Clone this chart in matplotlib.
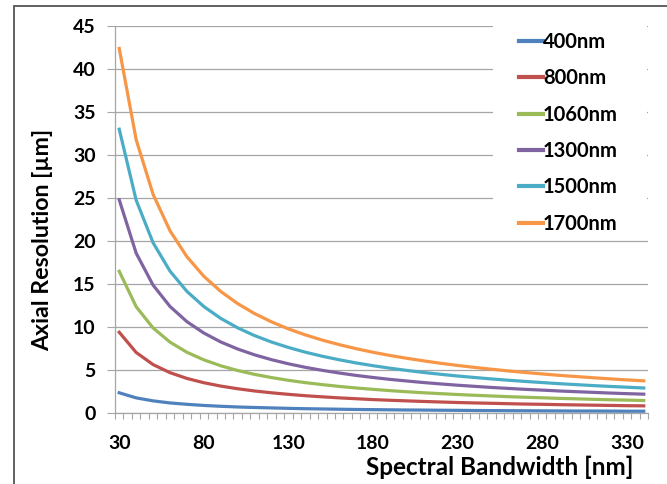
import matplotlib
matplotlib.use("Agg")
import matplotlib.pyplot as plt
import matplotlib.patches as patches
from matplotlib.ticker import FixedLocator

# spectral bandwidth [nm]
bandwidth = [30, 40, 50, 60, 70, 80, 90, 100, 110, 120, 130, 140, 150, 160, 170, 180,
             190, 200, 210, 220, 230, 240, 250, 260, 270, 280, 290, 300, 310, 320, 330, 340]

# axial resolution [um] per centre wavelength
res_400 = [2.35, 1.76, 1.41, 1.17, 1.01, 0.88, 0.78, 0.70, 0.64, 0.59, 0.54, 0.50, 0.47, 0.44, 0.41, 0.39,
           0.37, 0.35, 0.34, 0.32, 0.31, 0.29, 0.28, 0.27, 0.26, 0.25, 0.24, 0.23, 0.23, 0.22, 0.21, 0.21]
res_800 = [9.39, 7.04, 5.63, 4.69, 4.02, 3.52, 3.13, 2.82, 2.56, 2.35, 2.17, 2.01, 1.88, 1.76, 1.66, 1.56,
           1.48, 1.41, 1.34, 1.28, 1.22, 1.17, 1.13, 1.08, 1.04, 1.01, 0.97, 0.94, 0.91, 0.88, 0.85, 0.83]
res_1060 = [16.48, 12.36, 9.89, 8.24, 7.06, 6.18, 5.49, 4.94, 4.49, 4.12, 3.80, 3.53, 3.30, 3.09, 2.91, 2.75,
            2.60, 2.47, 2.35, 2.25, 2.15, 2.06, 1.98, 1.90, 1.83, 1.77, 1.70, 1.65, 1.59, 1.54, 1.50, 1.45]
res_1300 = [24.79, 18.59, 14.87, 12.39, 10.62, 9.30, 8.26, 7.44, 6.76, 6.20, 5.72, 5.31, 4.96, 4.65, 4.37, 4.13,
            3.91, 3.72, 3.54, 3.38, 3.23, 3.10, 2.97, 2.86, 2.75, 2.66, 2.56, 2.48, 2.40, 2.32, 2.25, 2.19]
res_1500 = [33.0, 24.75, 19.8, 16.5, 14.14, 12.38, 11.0, 9.9, 9.0, 8.25, 7.62, 7.07, 6.6, 6.19, 5.82, 5.5,
            5.21, 4.95, 4.71, 4.5, 4.3, 4.13, 3.96, 3.81, 3.67, 3.54, 3.41, 3.3, 3.19, 3.09, 3.0, 2.91]
res_1700 = [42.39, 31.79, 25.43, 21.19, 18.17, 15.90, 14.13, 12.72, 11.56, 10.60, 9.78, 9.08, 8.48, 7.95, 7.48, 7.06,
            6.69, 6.36, 6.06, 5.78, 5.53, 5.30, 5.09, 4.89, 4.71, 4.54, 4.38, 4.24, 4.10, 3.97, 3.85, 3.74]

labels = ["400nm", "800nm", "1060nm", "1300nm", "1500nm", "1700nm"]
series = [res_400, res_800, res_1060, res_1300, res_1500, res_1700]
colors = ["#4F81BD", "#C0504D", "#9BBB59", "#8064A2", "#4BACC6", "#F79646"]

xticks = [30, 80, 130, 180, 230, 280, 330]
yticks = [0, 5, 10, 15, 20, 25, 30, 35, 40, 45]

plt.rcParams['font.family'] = ['Lato', 'DejaVu Sans']
plt.rcParams['font.weight'] = 'bold'

W, H = 667, 484
fig = plt.figure(figsize=(6.67, 4.84), dpi=100)
ax = fig.add_axes([115 / W, 1 - 413 / H, 533 / W, 387 / H])

# outer chart border (cut off right and bottom like the screenshot)
border = patches.Rectangle((14 / W, -0.1), 1.0, 1.1 - 6 / H, transform=fig.transFigure,
                           fill=False, edgecolor='#555555', linewidth=1.3, zorder=0)
fig.patches.append(border)

for vals, lab, col in zip(series, labels, colors):
    ax.plot(bandwidth, vals, color=col, linewidth=2.3, label=lab, zorder=3)

ax.set_xlim(27.5, 342.5)
ax.set_ylim(0, 45)
ax.set_yticks(yticks)
ax.set_xticks(xticks)
ax.xaxis.set_minor_locator(FixedLocator([x + 2.5 for x in range(25, 345, 5)]))
ax.tick_params(axis='x', which='both', direction='out', length=4, width=0.8, color='#A6A6A6',
               labelsize=14, pad=16)
ax.tick_params(axis='x', which='major', length=0)
ax.tick_params(axis='y', direction='out', length=6, width=0.8, color='#A6A6A6', labelsize=14, pad=8)

ax.grid(True, axis='y', color='#A6A6A6', linewidth=0.9, zorder=0)
ax.set_axisbelow(True)
for s in ['top', 'right']:
    ax.spines[s].set_visible(False)
for s in ['left', 'bottom']:
    ax.spines[s].set_color('#A6A6A6')
    ax.spines[s].set_linewidth(0.9)

# white legend area hiding the gridlines
ax.add_patch(patches.Rectangle(((493 - 115) / 533, (413 - 238) / 387), (647 - 493) / 533, 1.0,
                               transform=ax.transAxes, facecolor='white', edgecolor='none',
                               zorder=1.5, clip_on=False))

fig.text(43 / W, 1 - 240 / H, "Axial Resolution [µm]", rotation=90, ha='center', va='center',
         fontsize=16.7, fontweight='bold')
fig.text(500 / W, 1 - 475 / H, "Spectral Bandwidth [nm]", ha='center', va='baseline',
         fontsize=17.5, fontweight='bold')

leg = ax.legend(loc='upper left', bbox_to_anchor=((519 - 115) / 533, (413 - 32) / 387),
                frameon=False, fontsize=14.5, handlelength=1.2, handletextpad=0.0,
                labelspacing=0.81, borderpad=0.0, borderaxespad=0.0)
for h in leg.get_lines():
    h.set_linewidth(3)

fig.savefig("out.png", dpi=100)
